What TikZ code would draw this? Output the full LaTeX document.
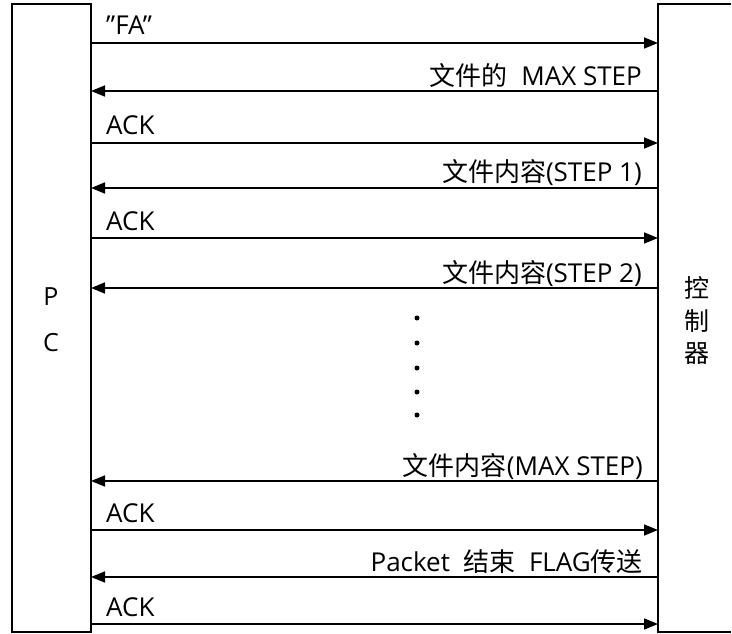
\documentclass[tikz,border=0pt]{standalone}
\usepackage{fontspec}
\setmainfont{Open Sans}
\newfontfamily\cjk{Noto Sans CJK SC}
\usetikzlibrary{arrows.meta}
\begin{document}
\begin{tikzpicture}[x=1pt,y=-1pt,
  msg/.style={line width=1.6pt,-{Triangle[length=14pt,width=11pt]}},
  lbl/.style={inner sep=0pt,font=\fontsize{26}{28}\selectfont},
  side/.style={inner sep=0pt,font=\fontsize{25}{28}\selectfont},
  dot/.style={circle,fill,inner sep=0pt,minimum size=5pt}]
\useasboundingbox (0,0) rectangle (732,634);
% boxes
\draw[line width=2pt] (12,4) rectangle (91,632);
\draw[line width=2pt] (731,4) -- (658,4) -- (658,632) -- (731,632);
\coordinate (pcE) at (91,0);
\coordinate (ctW) at (658,0);
% box labels
\node[side] (p) at (51,297) {P};
\node[side] (c) at (51,343) {C};
\node[side] (k1) at (697,288) {\cjk 控};
\node[side] (k2) at (697,321) {\cjk 制};
\node[side] (k3) at (697,354) {\cjk 器};
% row coordinates
\foreach \n/\y in {1/43,2/91,3/143,4/188,5/238,6/288,7/481,8/530,9/577,10/624}{
  \coordinate (L\n) at (pcE |- 0,\y);
  \coordinate (R\n) at (ctW |- 0,\y);
}
% messages
\draw[msg] (L1) -- (R1);
\node[lbl,anchor=base west] (t1) at ([shift={(15,-8)}]L1) {”FA”};
\draw[msg] (R2) -- (L2);
\node[lbl,anchor=base east] (t2) at ([shift={(-16,-6)}]R2) {{\cjk 文件的}\ \ MAX STEP};
\draw[msg] (L3) -- (R3);
\node[lbl,anchor=base west] (t3) at ([shift={(15,-8)}]L3) {ACK};
\draw[msg] (R4) -- (L4);
\node[lbl,anchor=base east] (t4) at ([shift={(-16,-6)}]R4) {{\cjk 文件内容}(STEP 1)};
\draw[msg] (L5) -- (R5);
\node[lbl,anchor=base west] (t5) at ([shift={(15,-8)}]L5) {ACK};
\draw[msg] (R6) -- (L6);
\node[lbl,anchor=base east] (t6) at ([shift={(-16,-6)}]R6) {{\cjk 文件内容}(STEP 2)};
\draw[msg] (R7) -- (L7);
\node[lbl,anchor=base east] (t7) at ([shift={(-15,-6)}]R7) {{\cjk 文件内容}(MAX STEP)};
\draw[msg] (L8) -- (R8);
\node[lbl,anchor=base west] (t8) at ([shift={(15,-8)}]L8) {ACK};
\draw[msg] (R9) -- (L9);
\node[lbl,anchor=base east] (t9) at ([shift={(-15,-6)}]R9) {Packet\ \ {\cjk 结束}\ \ FLAG{\cjk 传送}};
\draw[msg] (L10) -- (R10);
\node[lbl,anchor=base west] (t10) at ([shift={(15,-8)}]L10) {ACK};
% ellipsis dots
\foreach \y [count=\i] in {318,343,368,392,415}
  \node[dot] (d\i) at (417,\y) {};
\end{tikzpicture}
\end{document}
